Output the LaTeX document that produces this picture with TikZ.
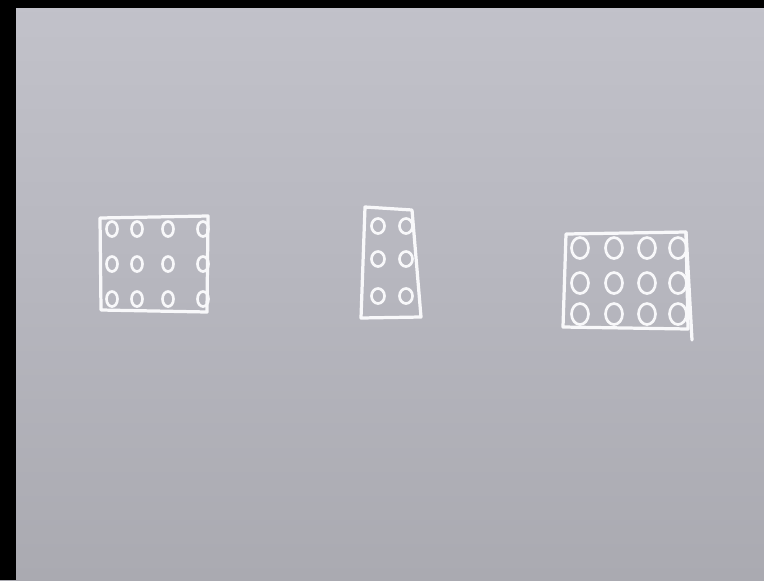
\documentclass[tikz,border=0pt]{standalone}
\definecolor{board}{RGB}{182,182,190}
\definecolor{boardhi}{RGB}{194,194,202}
\definecolor{boardlo}{RGB}{170,170,177}
\definecolor{chalk}{RGB}{248,248,250}
\begin{document}
\begin{tikzpicture}[x=0.025cm,y=-0.025cm,
  chalk/.style={draw=chalk,line width=2.3pt,line cap=round,line join=round},
  dot/.style={chalk,line width=1.9pt}]
  \path[use as bounding box] (0,0) rectangle (764,580);

  % board and the dark frame edges
  \shade[top color=boardhi,bottom color=boardlo,middle color=board] (0,0) rectangle (764,580);
  \fill[black] (0,0) rectangle (764,8);
  \fill[black] (0,0) rectangle (16,580);

  % left block: four by three
  \draw[chalk] (100,218) -- (208,216) -- (207,312) -- (101,310) -- cycle;
  \foreach \x in {112,137,168,203}
    \foreach \y in {229,264,299}
      \draw[dot] (\x,\y) ellipse (5.5 and 7.5);

  % middle block: two by three
  \draw[chalk] (365,207) -- (412,210) -- (421,317) -- (361,318) -- cycle;
  \foreach \x in {378,406}
    \foreach \y in {226,259,296}
      \draw[dot] (\x,\y) ellipse (6.5 and 7.5);

  % right block: four by three, larger rings
  \draw[chalk] (566,234) -- (686,232) -- (688,329) -- (563,327) -- cycle;
  \draw[chalk] (686,232) -- (692,340);
  \foreach \x in {580,614,647,678}
    \foreach \y in {248,283,314}
      \draw[dot] (\x,\y) ellipse (8.5 and 10.5);
\end{tikzpicture}
\end{document}
